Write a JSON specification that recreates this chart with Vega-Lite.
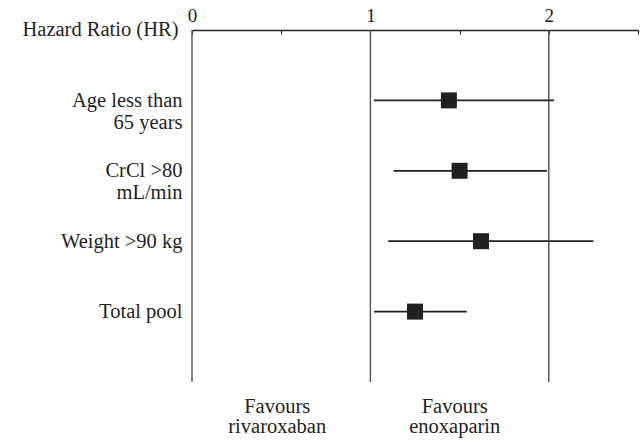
{
  "$schema": "https://vega.github.io/schema/vega-lite/v6.json",
  "width": 446,
  "height": 352,
  "autosize": {"type": "none"},
  "padding": {"left": 192, "top": 30, "right": 3, "bottom": 60},
  "background": "white",
  "config": {
    "view": {"stroke": null},
    "font": "Liberation Serif",
    "axis": {"labelFont": "Liberation Serif", "titleFont": "Liberation Serif", "labelColor": "#231f20", "titleColor": "#231f20", "grid": false}
  },
  "datasets": {
    "refs": [{"v": 0}, {"v": 1}, {"v": 2}],
    "rows": [
      {"label": "Age less than\n65 years", "hr": 1.44, "lo": 1.02, "hi": 2.03},
      {"label": "CrCl >80\nmL/min", "hr": 1.50, "lo": 1.13, "hi": 1.99},
      {"label": "Weight >90 kg", "hr": 1.62, "lo": 1.10, "hi": 2.25},
      {"label": "Total pool", "hr": 1.25, "lo": 1.02, "hi": 1.54}
    ]
  },
  "layer": [
    {
      "data": {"name": "refs"},
      "mark": {"type": "rule", "color": "#5a5a5a", "strokeWidth": 1.5},
      "encoding": {
        "x": {
          "field": "v", "type": "quantitative",
          "scale": {"domain": [0, 2.5], "nice": false, "zero": false},
          "axis": {
            "orient": "top",
            "values": [0, 0.5, 1, 1.5, 2, 2.5],
            "labelExpr": "(datum.value % 1 == 0 && datum.value < 2.5) ? format(datum.value, 'd') : ''",
            "labelFlush": false,
            "labelOverlap": false,
            "labelFontSize": 19,
            "labelPadding": 9,
            "tickSize": -4,
            "tickColor": "#231f20",
            "tickWidth": 1.2,
            "domainColor": "#231f20",
            "domainWidth": 1.3,
            "title": "Hazard Ratio (HR)",
            "titleFontSize": 20.5,
            "titleFontWeight": "normal",
            "titleAngle": 0,
            "titleAlign": "right",
            "titleBaseline": "middle",
            "titleX": -14,
            "titleY": -1
          }
        }
      }
    },
    {
      "data": {"name": "rows"},
      "mark": {"type": "rule", "color": "#231f20", "strokeWidth": 1.8},
      "encoding": {
        "x": {"field": "lo", "type": "quantitative", "scale": {"domain": [0, 2.5], "nice": false, "zero": false}, "axis": null},
        "x2": {"field": "hi"},
        "y": {
          "field": "label", "type": "nominal", "sort": null,
          "scale": {"type": "point", "padding": 1},
          "axis": {
            "title": null,
            "domain": false,
            "ticks": false,
            "labelExpr": "split(datum.label, '\\n')",
            "labelFontSize": 20.5,
            "labelLineHeight": 22,
            "labelPadding": 10,
            "labelAlign": "right",
            "labelBaseline": "middle"
          }
        }
      }
    },
    {
      "data": {"name": "rows"},
      "mark": {"type": "point", "shape": "square", "size": 256, "filled": true, "opacity": 1, "color": "#231f20"},
      "encoding": {
        "x": {
          "field": "hr", "type": "quantitative",
          "scale": {"domain": [0, 2.5], "nice": false, "zero": false},
          "axis": {
            "orient": "bottom",
            "values": [0.475, 1.47],
            "labelExpr": "datum.value < 1 ? ['Favours', 'rivaroxaban'] : ['Favours', 'enoxaparin']",
            "labelFlush": false,
            "labelOverlap": false,
            "domain": false,
            "ticks": false,
            "labelFontSize": 20.5,
            "labelLineHeight": 20,
            "labelBaseline": "top",
            "labelPadding": 14,
            "title": null
          }
        },
        "y": {"field": "label", "type": "nominal", "sort": null, "scale": {"type": "point", "padding": 1}, "axis": null}
      }
    }
  ],
  "resolve": {"axis": {"x": "independent", "y": "independent"}}
}
